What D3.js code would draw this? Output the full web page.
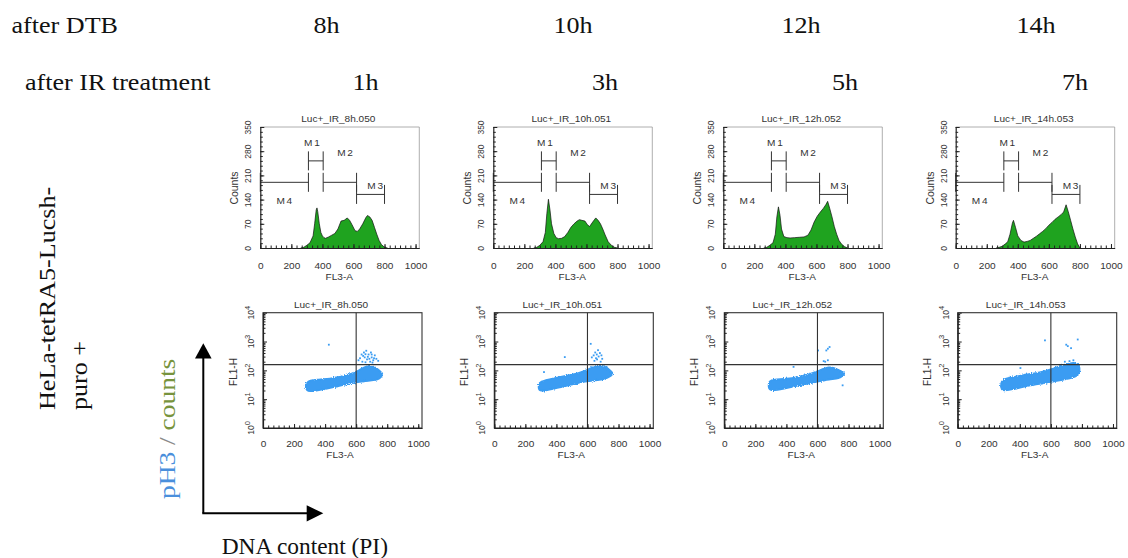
<!DOCTYPE html>
<html>
<head>
<meta charset="utf-8">
<script src="https://cdn.jsdelivr.net/npm/d3@7"></script>
<style>
body { margin: 0; background: #fff; }
svg { display: block; }
.big { font-family: "Liberation Serif", "Times New Roman", serif; font-size: 22.5px; fill: #111; }
.sm { font-family: "Liberation Sans", Arial, sans-serif; fill: #333; }
</style>
</head>
<body>
<svg id="fig" width="1128" height="558"></svg>
<script>
"use strict";

/* global d3 */

// ---- values ----
var dtbLabels = ["8h", "10h", "12h", "14h"];
var irLabels = ["1h", "3h", "5h", "7h"];
var sampleNames = ["Luc+_IR_8h.050", "Luc+_IR_10h.051", "Luc+_IR_12h.052", "Luc+_IR_14h.053"];

// DNA histograms: [FL3-A channel, counts]
var hist8h = [[260,0],[280,2],[300,8],[320,15],[340,35],[350,70],[360,110],[365,116],[370,105],[380,70],[390,45],
	[400,35],[410,30],[420,28],[440,32],[460,37],[480,42],[500,55],[520,78],[540,80],[560,87],[575,80],[590,68],
	[610,50],[625,48],[640,55],[660,70],[680,88],[690,94],[705,90],[720,80],[735,60],[750,40],[765,22],[780,10],[800,2],[820,0]];
var hist10h = [[260,0],[280,2],[300,8],[320,18],[335,45],[345,100],[355,141],[365,110],[375,70],[390,42],[405,30],
	[420,27],[440,28],[460,33],[480,45],[500,60],[520,70],[540,78],[555,82],[570,80],[590,78],[605,68],[620,62],
	[640,75],[660,87],[675,80],[690,70],[705,55],[720,38],[740,18],[760,8],[780,2],[800,0]];
var hist12h = [[260,0],[280,2],[300,8],[320,15],[335,40],[345,90],[355,119],[365,95],[375,55],[390,33],[410,30],
	[430,29],[460,30],[490,31],[520,32],[545,37],[565,52],[585,75],[605,92],[625,104],[645,115],[660,125],[672,135],
	[685,115],[700,90],[715,62],[730,40],[745,22],[760,12],[780,4],[800,0]];
var hist14h = [[260,0],[280,2],[300,5],[320,12],[335,18],[350,40],[365,72],[372,80],[385,60],[400,35],[420,22],
	[440,17],[460,19],[480,22],[500,28],[520,34],[540,41],[560,48],[580,56],[600,66],[620,74],[640,83],[660,90],
	[680,97],[695,104],[711,125],[725,105],[740,80],[755,55],[770,32],[785,12],[800,0]];
var hists = [hist8h, hist10h, hist12h, hist14h];

// marker gates on the histograms
var gateNames = ["M1", "M2", "M3", "M4"];
var gateFrom = [310, 405, 620, 0];
var gateTo = [405, 620, 800, 310];
var gateLevel = [252, 190, 155, 190];

// dot plots: outline of the cell cloud [FL3-A, log10 FL1-H low, log10 FL1-H high]
var cloud8h = [[275,1.42,1.46],[282,1.30,1.58],[300,1.26,1.66],[350,1.30,1.68],[413,1.36,1.70],[470,1.43,1.76],
	[519,1.50,1.80],[570,1.55,1.88],[625,1.60,2.02],[660,1.62,2.14],[700,1.65,2.18],[740,1.68,2.05],[760,1.75,1.94],[768,1.85,1.90]];
var cloud10h = [[285,1.40,1.46],[290,1.25,1.62],[381,1.36,1.73],[485,1.48,1.83],[590,1.62,1.97],[653,1.65,2.20],
	[715,1.69,2.15],[750,1.80,1.98],[760,1.86,1.92]];
var cloud12h = [[285,1.45,1.50],[290,1.27,1.69],[383,1.36,1.69],[488,1.48,1.77],[594,1.60,1.94],[678,1.69,2.17],
	[741,1.71,2.00],[766,1.83,1.94],[772,1.87,1.90]];
var cloud14h = [[278,1.45,1.50],[282,1.27,1.69],[362,1.34,1.77],[467,1.48,1.88],[573,1.57,1.97],[657,1.65,2.15],
	[741,1.73,2.29],[779,1.83,2.23],[785,1.98,2.08]];
var clouds = [cloud8h, cloud10h, cloud12h, cloud14h];

// pH3+ cluster and single events [FL3-A, log10 FL1-H]
var spots8h = [[424,2.89],[615,2.35],[625,2.42],[635,2.55],[640,2.30],[650,2.62],[655,2.45],[665,2.68],[670,2.38],
	[680,2.55],[690,2.30],[695,2.62],[700,2.45],[710,2.35],[720,2.52],[730,2.40],[742,2.33],[660,2.28],[705,2.27],
	[645,2.50],[675,2.47],[685,2.40],[715,2.42],[660,2.56],[700,2.55]];
var spots10h = [[320,1.94],[454,2.46],[621,2.92],[628,2.45],[640,2.52],[650,2.62],[660,2.55],[668,2.70],[672,2.48],
	[680,2.60],[690,2.52],[655,2.42],[695,2.40],[662,2.38],[645,2.33],[685,2.30]];
var spots12h = [[446,2.12],[604,2.69],[640,2.32],[650,2.30],[657,2.69],[667,2.75],[667,2.35],[678,2.81],[762,1.48]];
var spots14h = [[404,2.08],[562,3.04],[690,2.30],[699,2.89],[709,2.84],[720,2.32],[730,2.77],[745,2.35],[773,3.07]];
var spots = [spots8h, spots10h, spots12h, spots14h];

var quadX = 600;
var quadYLog = 2.2;

var histXTicks = [0, 200, 400, 600, 800, 1000];
var histYTicks = [0, 70, 140, 210, 280, 350];
var dotDecades = [0, 1, 2, 3, 4];

// ---- layout ----
var svg = d3.select("#fig");
var SX = 1.16;    // serif labels are wider than the font
var SXs = 1.12;   // the panel bitmaps are stretched a little
var PW = 159;
var histLeft = [260.3, 493.3, 723.3, 955.7];
var dotLeft = [263, 494.3, 724.3, 957.7];
var hTop = 127, hBot = 248, dTop = 312.7, dBot = 428;
var dtbX = [326.5, 573, 801, 1036];
var irX = [365.5, 605, 845, 1075];
var gateLabelAt = {M1: [338, 296], M2: [551, 266], M3: [745, 170], M4: [160, 126]};
var fmt = d3.format("d");

function bigText(x, y, str, anchor, sx) {
	return svg.append("text").attr("class", "big").attr("text-anchor", anchor || "start")
		.attr("transform", "translate(" + x + "," + y + ") scale(" + (sx || SX) + ",1)").text(str);
}

// Header rows
bigText(11.5, 33, "after DTB");
dtbLabels.forEach(function(t, i) { bigText(dtbX[i], 33, t, "middle"); });
bigText(25, 90, "after IR treatment");
irLabels.forEach(function(t, i) { bigText(irX[i], 90, t, "middle"); });

// Cell line label, two lines rotated
svg.append("text").attr("class", "big").attr("transform", "translate(55,410) rotate(-90) scale(" + SX + ",1)")
	.text("HeLa-tetRA5-Lucsh-");
svg.append("text").attr("class", "big").attr("transform", "translate(87,410) rotate(-90) scale(" + SX + ",1)")
	.text("puro +");

// pH3 / counts
var yl = svg.append("text").attr("class", "big").attr("transform", "translate(175,499) rotate(-90) scale(1.22,1)");
yl.append("tspan").style("fill", "#4a8fdc").text("pH3");
yl.append("tspan").style("fill", "#8a8a8a").text(" / ");
yl.append("tspan").style("fill", "#77933c").text("counts");

// Arrows
svg.append("path").attr("d", "M203.3,513.3V356").attr("stroke", "#000").attr("stroke-width", 2).attr("fill", "none");
svg.append("path").attr("d", "M203.3,343.3L195,358.5L211.6,358.5Z").attr("fill", "#000");
svg.append("path").attr("d", "M202.3,513.3H309").attr("stroke", "#000").attr("stroke-width", 2).attr("fill", "none");
svg.append("path").attr("d", "M323.3,513.3L306.7,505.3L306.7,521.5Z").attr("fill", "#000");

bigText(221.7, 554, "DNA content (PI)", "start", 1.04);

// small text helper for panels
function smText(g, x, y, str, size, rot) {
	return g.append("text").attr("class", "sm").attr("text-anchor", "middle").attr("font-size", size)
		.attr("transform", "translate(" + x + "," + y + ") scale(" + SXs + ",1)" + (rot ? " rotate(-90)" : ""))
		.text(str);
}

function styleAxis(sel) {
	sel.attr("font-family", null).attr("font-size", null);
	sel.selectAll("path").attr("stroke", "#222").attr("stroke-width", 1.2);
	sel.selectAll("line").attr("stroke", "#222").attr("stroke-width", 1);
	sel.selectAll("text").attr("class", "sm").attr("fill", null).attr("font-size", 9);
}

// minor tick values
var minorX = d3.range(0, 1024, 200 / 6);
var minorHistY = d3.range(0, 351, 14);
var minorLogY = [];
dotDecades.slice(0, 4).forEach(function(e) {
	for (var k = 2; k <= 9; k++) minorLogY.push(k * Math.pow(10, e));
});

// ---- histograms ----
hists.forEach(function(data, i) {
	var L = histLeft[i];
	var x = d3.scaleLinear().domain([0, 1024]).range([L, L + PW]);
	var y = d3.scaleLinear().domain([0, 350]).range([hBot, hTop]);
	var g = svg.append("g").attr("class", "hist-" + i);

	// light frame
	g.append("path").attr("d", "M" + x(0) + "," + hTop + "H" + x(1024) + "V" + hBot)
		.attr("fill", "none").attr("stroke", "#9a9a9a").attr("stroke-width", 0.8);

	var area = d3.area().x(function(d) { return x(d[0]); }).y0(hBot).y1(function(d) { return y(d[1]); });
	var line = d3.line().x(function(d) { return x(d[0]); }).y(function(d) { return y(d[1]); });
	g.append("path").datum(data).attr("d", area).attr("fill", "#1fa31f");
	g.append("path").datum(data).attr("d", line).attr("fill", "none").attr("stroke", "#111").attr("stroke-width", 0.7);

	// gates
	gateNames.forEach(function(name, k) {
		var yy = y(gateLevel[k]);
		g.append("path").attr("d", "M" + x(gateFrom[k]) + "," + yy + "H" + x(gateTo[k]) +
			"M" + x(gateFrom[k]) + "," + (yy - 9.5) + "V" + (yy + 9.5) +
			"M" + x(gateTo[k]) + "," + (yy - 9.5) + "V" + (yy + 9.5))
			.attr("fill", "none").attr("stroke", "#333").attr("stroke-width", 1);
		var at = gateLabelAt[name];
		smText(g, x(at[0]), y(at[1]), name, 9).attr("letter-spacing", 1.5);
	});

	// axes
	g.append("g").attr("transform", "translate(0," + hBot + ")")
		.call(d3.axisBottom(x).tickValues(minorX).tickSize(-2.5).tickFormat(""))
		.call(function(s) { s.select(".domain").remove(); s.selectAll("line").attr("stroke", "#222"); });
	g.append("g").attr("transform", "translate(" + L + ",0)")
		.call(d3.axisLeft(y).tickValues(minorHistY).tickSize(-2.5).tickFormat(""))
		.call(function(s) { s.select(".domain").remove(); s.selectAll("line").attr("stroke", "#222"); });

	var ax = g.append("g").attr("transform", "translate(0," + hBot + ")")
		.call(d3.axisBottom(x).tickValues(histXTicks).tickFormat(fmt)
			.tickSizeInner(-4).tickSizeOuter(0).tickPadding(15));
	styleAxis(ax);
	ax.selectAll("text").attr("transform", "scale(" + SXs + ",1)");

	var ay = g.append("g").attr("transform", "translate(" + L + ",0)")
		.call(d3.axisLeft(y).tickValues(histYTicks).tickFormat(fmt).tickSizeInner(-4).tickSizeOuter(0));
	styleAxis(ay);
	ay.selectAll("text").attr("x", null).attr("dy", null).attr("text-anchor", "middle")
		.attr("font-size", 8.5).attr("transform", "translate(-9,0) rotate(-90)");

	smText(g, L + 78, 122, sampleNames[i], 9);
	smText(g, L + 79, 280, "FL3-A", 9);
	smText(g, L - 22, 188, "Counts", 10.5, true);
});

// ---- dot plots ----
clouds.forEach(function(cloud, i) {
	var L = dotLeft[i];
	var x = d3.scaleLinear().domain([0, 1024]).range([L, L + PW]);
	var y = d3.scaleLog().domain([1, 10000]).range([dBot, dTop]);
	var g = svg.append("g").attr("class", "dot-" + i);

	var area = d3.area().curve(d3.curveBasis)
		.x(function(d) { return x(d[0]); })
		.y0(function(d) { return y(Math.pow(10, d[1])); })
		.y1(function(d) { return y(Math.pow(10, d[2])); });
	g.append("path").datum(cloud).attr("d", area).attr("fill", "#3a9cf2")
		.attr("stroke", "#3a9cf2").attr("stroke-width", 1.6).attr("filter", "url(#speck)");

	g.selectAll("rect.ev").data(spots[i]).enter().append("rect").attr("class", "ev")
		.attr("x", function(d) { return x(d[0]) - 0.9; })
		.attr("y", function(d) { return y(Math.pow(10, d[1])) - 0.9; })
		.attr("width", 1.8).attr("height", 1.8).attr("fill", "#3a9cf2");

	// frame and quadrant lines
	g.append("rect").attr("x", x(0)).attr("y", dTop).attr("width", PW).attr("height", dBot - dTop)
		.attr("fill", "none").attr("stroke", "#333").attr("stroke-width", 1.1);
	g.append("path").attr("d", "M" + x(quadX) + "," + dTop + "V" + dBot +
		"M" + x(0) + "," + y(Math.pow(10, quadYLog)) + "H" + x(1024))
		.attr("fill", "none").attr("stroke", "#333").attr("stroke-width", 1.1);

	g.append("g").attr("transform", "translate(0," + dBot + ")")
		.call(d3.axisBottom(x).tickValues(minorX).tickSize(-2.5).tickFormat(""))
		.call(function(s) { s.select(".domain").remove(); s.selectAll("line").attr("stroke", "#222"); });
	g.append("g").attr("transform", "translate(" + L + ",0)")
		.call(d3.axisLeft(y).tickValues(minorLogY).tickSize(-2.5).tickFormat(""))
		.call(function(s) { s.select(".domain").remove(); s.selectAll("line").attr("stroke", "#222"); });

	var ax = g.append("g").attr("transform", "translate(0," + dBot + ")")
		.call(d3.axisBottom(x).tickValues(histXTicks).tickFormat(fmt)
			.tickSizeInner(-4).tickSizeOuter(0).tickPadding(12.5));
	styleAxis(ax);
	ax.selectAll("text").attr("transform", "scale(" + SXs + ",1)");

	var ay = g.append("g").attr("transform", "translate(" + L + ",0)")
		.call(d3.axisLeft(y).tickValues(dotDecades.map(function(e) { return Math.pow(10, e); }))
			.tickSizeInner(-4).tickSizeOuter(0).tickFormat(""));
	styleAxis(ay);

	dotDecades.forEach(function(e) {
		var t = g.append("text").attr("class", "sm").attr("font-size", 8.5).attr("text-anchor", "middle")
			.attr("transform", "translate(" + (L - 9) + "," + y(Math.pow(10, e)) + ") rotate(-90)");
		t.append("tspan").text("10");
		t.append("tspan").attr("dy", -4.5).attr("font-size", 7.5).text(e);
	});

	smText(g, L + 68, 308, sampleNames[i], 9);
	smText(g, L + 77, 457.5, "FL3-A", 9);
	smText(g, L - 26.5, 372, "FL1-H", 10, true);
});

// speckled edge for the dot clouds
var defs = svg.insert("defs", ":first-child");
var f = defs.append("filter").attr("id", "speck").attr("x", "-10%").attr("y", "-30%").attr("width", "120%").attr("height", "160%");
f.append("feTurbulence").attr("type", "fractalNoise").attr("baseFrequency", 0.9).attr("numOctaves", 1)
	.attr("seed", 3).attr("result", "n");
f.append("feDisplacementMap").attr("in", "SourceGraphic").attr("in2", "n").attr("scale", 3.5)
	.attr("xChannelSelector", "R").attr("yChannelSelector", "G");
</script>
</body>
</html>
